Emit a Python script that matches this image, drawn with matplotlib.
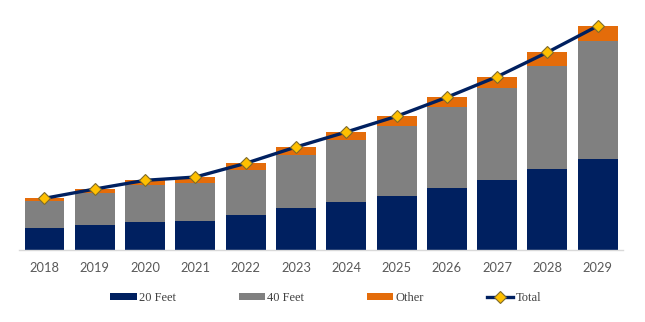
import matplotlib.pyplot as plt
import numpy as np

years = ["2018", "2019", "2020", "2021", "2022", "2023",
         "2024", "2025", "2026", "2027", "2028", "2029"]
feet20 = [21.2, 24.2, 27.5, 28.8, 34.5, 41.5, 47.5, 53.8, 61.5, 69.5, 80.2, 90.2]
feet40 = [27.0, 32.0, 36.7, 37.7, 45.3, 53.0, 62.0, 69.7, 80.7, 92.0, 103.6, 118.3]
other = [3.0, 4.3, 5.0, 6.0, 6.4, 8.0, 8.0, 9.7, 10.0, 11.3, 13.4, 15.0]

navy = "#002060"
grey = "#808080"
orange = "#E46C0A"
gold = "#FFC000"

f20 = np.array(feet20)
f40 = np.array(feet40)
oth = np.array(other)
total = f20 + f40 + oth
x = np.arange(len(years))

fig = plt.figure(figsize=(6.45, 3.22), dpi=100)
ax = fig.add_axes([0.030, 0.225, 0.9356, 0.744])

b1 = ax.bar(x, f20, width=0.795, color=navy, label="20 Feet")
b2 = ax.bar(x, f40, width=0.795, bottom=f20, color=grey, label="40 Feet")
b3 = ax.bar(x, oth, width=0.795, bottom=f20 + f40, color=orange, label="Other")
ln, = ax.plot(x, total, color=navy, linewidth=2.4, marker="D", markersize=6.5,
              markerfacecolor=gold, markeredgecolor="#7F6A2A", markeredgewidth=0.8,
              label="Total")

ax.set_xlim(-0.5, 11.5)
ax.set_ylim(0, 239.5)
ax.set_xticks(x)
ax.set_xticklabels(years, fontfamily="Lato", fontsize=9.3, color="#595959")
ax.tick_params(axis="x", length=0, pad=9)
ax.set_yticks([])
for s in ["top", "right", "left"]:
    ax.spines[s].set_visible(False)
ax.spines["bottom"].set_color("#D9D9D9")
ax.spines["bottom"].set_linewidth(1.0)

fig.legend(handles=[b1, b2, b3, ln], loc="center", bbox_to_anchor=(0.505, 0.075),
           ncol=4, frameon=False,
           prop={"family": "Liberation Serif", "size": 9},
           labelcolor="#404040", handlelength=2.1, handleheight=0.5,
           handletextpad=0.2, columnspacing=5.0)

fig.savefig("out.png", dpi=100)
